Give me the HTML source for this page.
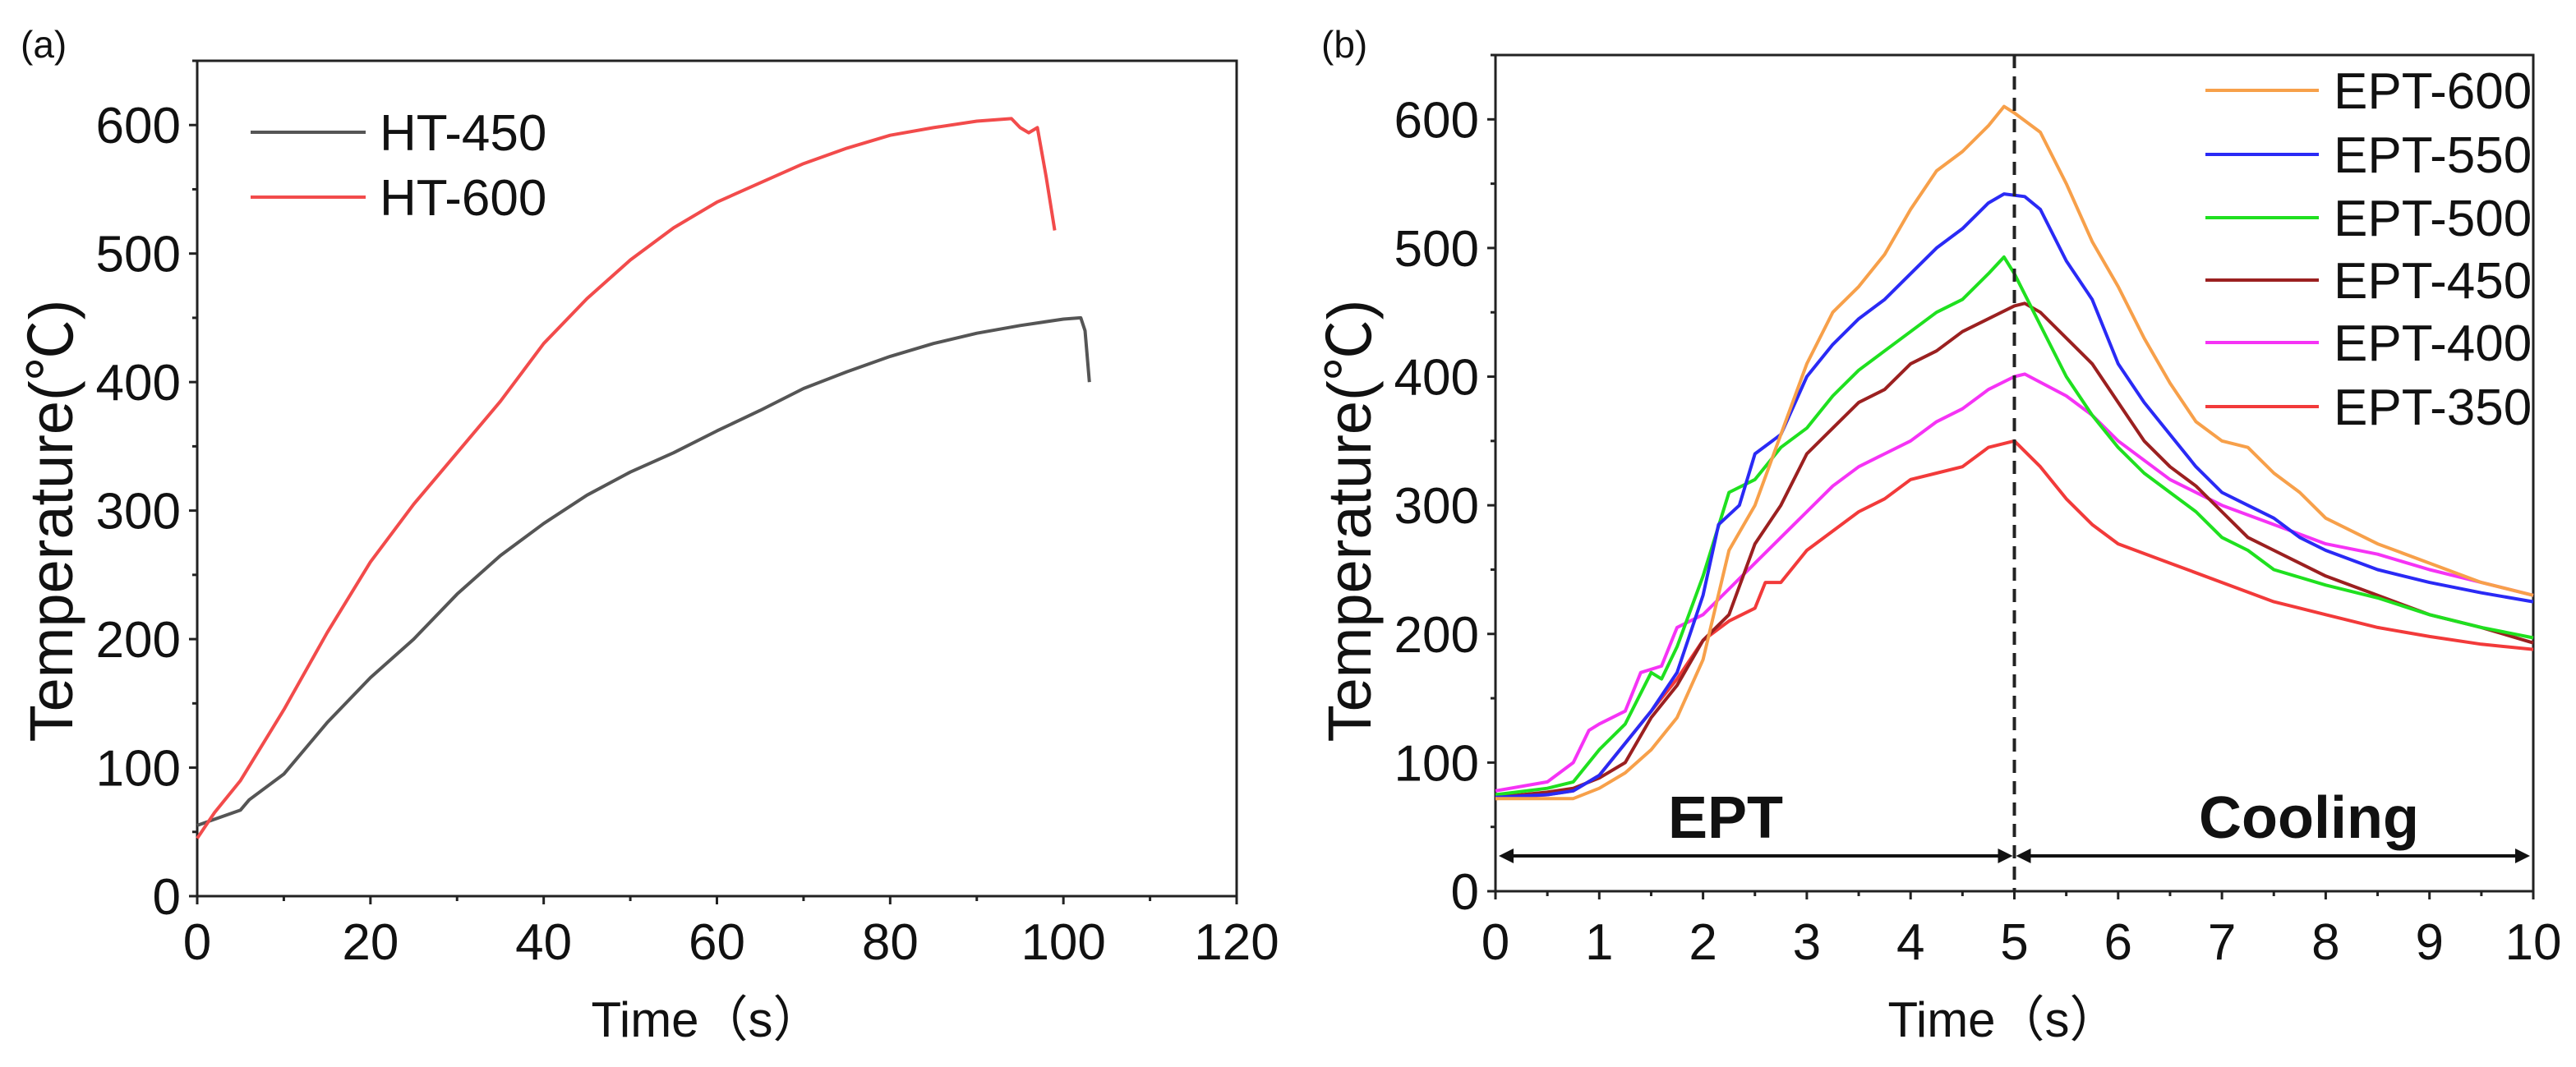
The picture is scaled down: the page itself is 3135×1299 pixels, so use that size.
<!DOCTYPE html>
<html><head><meta charset="utf-8"><style>
html,body{margin:0;padding:0;background:#fff;}
svg{display:block;font-family:"Liberation Sans","Noto Sans CJK SC",sans-serif;}
</style></head><body>
<svg id="fig" width="3135" height="1299" viewBox="0 0 3135 1299" xmlns="http://www.w3.org/2000/svg"></svg>
<script>
// ---- Panel (a) data ----
const htTime450 = [0,5,6,10,15,20,25,30,35,40,45,50,55,60,65,70,75,80,85,90,95,100,102,102.5,103];
const htTemp450 = [55,67,75,95,135,170,200,235,265,290,312,330,345,362,378,395,408,420,430,438,444,449,450,440,400];
const htTime600 = [0,2,5,10,15,20,25,30,35,40,45,50,55,60,65,70,75,80,85,90,94,95,96,97,98,99];
const htTemp600 = [45,65,90,145,205,260,305,345,385,430,465,495,520,540,555,570,582,592,598,603,605,598,594,598,560,518];
const aXTicks = [0,20,40,60,80,100,120];
const aYTicks = [0,100,200,300,400,500,600];
// ---- Panel (b) data ----
const t600=[0,0.5,0.75,1,1.25,1.5,1.75,2,2.25,2.5,2.75,3,3.25,3.5,3.75,4,4.25,4.5,4.75,4.9,5,5.25,5.5,5.75,6,6.25,6.5,6.75,7,7.25,7.5,7.75,8,8.5,9,9.5,10];
const v600=[72,72,72,80,92,110,135,180,265,300,355,410,450,470,495,530,560,575,595,610,605,590,550,505,470,430,395,365,350,345,325,310,290,270,255,240,230];
const t550=[0,0.5,0.75,1,1.25,1.5,1.75,2,2.15,2.35,2.5,2.75,3,3.25,3.5,3.75,4,4.25,4.5,4.75,4.9,5.1,5.25,5.5,5.75,6,6.25,6.5,6.75,7,7.25,7.5,7.75,8,8.5,9,9.5,10];
const v550=[73,75,78,90,115,140,170,230,285,300,340,355,400,425,445,460,480,500,515,535,542,540,530,490,460,410,380,355,330,310,300,290,275,265,250,240,232,225];
const t500=[0,0.5,0.75,1,1.25,1.5,1.6,1.75,2,2.25,2.5,2.75,3,3.25,3.5,3.75,4,4.25,4.5,4.75,4.9,5,5.25,5.5,5.75,6,6.25,6.5,6.75,7,7.25,7.5,8,8.5,9,9.5,10];
const v500=[75,80,85,110,130,170,165,190,245,310,320,345,360,385,405,420,435,450,460,480,493,480,440,400,370,345,325,310,295,275,265,250,238,228,215,205,197];
const t450=[0,0.5,0.75,1,1.25,1.5,1.75,2,2.25,2.5,2.75,3,3.25,3.5,3.75,4,4.25,4.5,4.75,5,5.1,5.25,5.5,5.75,6,6.25,6.5,6.75,7,7.25,7.5,8,8.5,9,9.5,10];
const v450=[73,77,80,88,100,135,160,195,215,270,300,340,360,380,390,410,420,435,445,455,457,450,430,410,380,350,330,315,295,275,265,245,230,215,205,193];
const t400=[0,0.5,0.75,0.9,1,1.25,1.4,1.6,1.75,2,2.25,2.5,2.75,3,3.25,3.5,3.75,4,4.25,4.5,4.75,5,5.1,5.5,5.75,6,6.5,7,7.5,8,8.5,9,9.5,10];
const v400=[78,85,100,125,130,140,170,175,205,215,235,255,275,295,315,330,340,350,365,375,390,400,402,385,370,350,320,300,285,270,262,250,240,230];
const t350=[0,0.5,0.75,1,1.25,1.5,1.75,2,2.25,2.5,2.6,2.75,3,3.25,3.5,3.75,4,4.25,4.5,4.75,5,5.25,5.5,5.75,6,6.5,7,7.5,8,8.5,9,9.5,10];
const v350=[72,75,78,90,115,140,165,195,210,220,240,240,265,280,295,305,320,325,330,345,350,330,305,285,270,255,240,225,215,205,198,192,188];
const bXTicks=[0,1,2,3,4,5,6,7,8,9,10];
const bYTicks=[0,100,200,300,400,500,600];
const bNames=["EPT-600","EPT-550","EPT-500","EPT-450","EPT-400","EPT-350"];
const bColors=["#f7a04a","#2a2af5","#1fe01f","#9b2020","#f533f5","#f23a3a"];

const NS="http://www.w3.org/2000/svg";
const svg=document.getElementById('fig');
function mk(tag,attrs,parent,name,inter){const e=document.createElementNS(NS,tag);for(const k in attrs)e.setAttribute(k,attrs[k]);


(parent||svg).appendChild(e);return e;}
function txt(s,attrs,name){const e=mk('text',attrs,svg,name,false);e.textContent=s;return e;}

function panel(cfg){
  const {x0,x1,y0,y1,xmin,xmax,ymax,xTicks,yTicks,xMinor,yMinor,id}=cfg;
  const sx=v=>x0+(v-xmin)/(xmax-xmin)*(x1-x0);
  const sy=v=>y0-(v/ymax)*(y0-y1);
  mk('rect',{x:x0,y:y1,width:x1-x0,height:y0-y1,fill:'none',stroke:'#222','stroke-width':3},svg,id+'-plot-frame',false);
  for(let v=xmin;v<=xmax+1e-9;v+=xMinor){const X=sx(v);const major=xTicks.some(t=>Math.abs(t-v)<1e-6);
    mk('line',{x1:X,x2:X,y1:y0,y2:y0+(major?10:6),stroke:'#222','stroke-width':3},svg,id+'-x-tick',false);}
  for(let v=0;v<=ymax+1e-9;v+=yMinor){const Y=sy(v);const major=yTicks.some(t=>Math.abs(t-v)<1e-6);
    mk('line',{x1:x0,x2:x0-(major?10:6),y1:Y,y2:Y,stroke:'#222','stroke-width':3},svg,id+'-y-tick',false);}
  xTicks.forEach(t=>txt(String(t),{x:sx(t),y:1168,'font-size':62,'text-anchor':'middle',fill:'#111'},id+'-x-tick-label'));
  yTicks.forEach(t=>txt(String(t),{x:x0-20,y:sy(t)+22,'font-size':62,'text-anchor':'end',fill:'#111'},id+'-y-tick-label'));
  return {sx,sy};
}
function line(ax,xs,ys,color,name,w){
  const d=xs.map((x,i)=>(i?'L':'M')+ax.sx(x).toFixed(1)+','+ax.sy(ys[i]).toFixed(1)).join('');
  mk('path',{d:d,fill:'none',stroke:color,'stroke-width':w||4,'stroke-linejoin':'round'},svg,name,false);
}
// Panel a
const A=panel({id:'a',x0:240,x1:1505,y0:1091,y1:74,xmin:0,xmax:120,ymax:650,xTicks:aXTicks,yTicks:aYTicks,xMinor:10,yMinor:50});
line(A,htTime450,htTemp450,'#555','ht-450-line');
line(A,htTime600,htTemp600,'#f24b4b','ht-600-line');
mk('line',{x1:305,x2:445,y1:161,y2:161,stroke:'#555','stroke-width':4},svg,'legend-ht-450-swatch',false);
txt('HT-450',{x:462,y:183,'font-size':62,fill:'#111'},'legend-ht-450');
mk('line',{x1:305,x2:445,y1:240,y2:240,stroke:'#f24b4b','stroke-width':4},svg,'legend-ht-600-swatch',false);
txt('HT-600',{x:462,y:262,'font-size':62,fill:'#111'},'legend-ht-600');
txt('(a)',{x:25,y:70,'font-size':46,fill:'#111'},'panel-a-label');
txt('Time（s）',{x:860,y:1262,'font-size':60,'text-anchor':'middle',fill:'#111'},'a-x-axis-title');
txt('Temperature(℃)',{x:0,y:0,'font-size':74,'text-anchor':'middle',fill:'#111',transform:'translate(88,634) rotate(-90)'},'a-y-axis-title');
// Panel b
const B=panel({id:'b',x0:1820,x1:3083,y0:1085,y1:67,xmin:0,xmax:10,ymax:650,xTicks:bXTicks,yTicks:bYTicks,xMinor:0.5,yMinor:50});
const bT=[t600,t550,t500,t450,t400,t350], bV=[v600,v550,v500,v450,v400,v350];
[5,4,3,2,1,0].forEach(i=>line(B,bT[i],bV[i],bColors[i],bNames[i].toLowerCase()+'-line'));
mk('line',{x1:B.sx(5),x2:B.sx(5),y1:67,y2:1085,stroke:'#222','stroke-width':4,'stroke-dasharray':'16,10'},svg,'phase-divider',false);
const legY=[110,188,265,341,417,495];
bNames.forEach((n,i)=>{
  mk('line',{x1:2684,x2:2822,y1:legY[i],y2:legY[i],stroke:bColors[i],'stroke-width':4},svg,'legend-'+n.toLowerCase()+'-swatch',false);
  txt(n,{x:2840,y:legY[i]+22,'font-size':62,fill:'#111'},'legend-'+n.toLowerCase());
});
// arrows
function arrow(xa,xb,y,name){
  mk('line',{x1:xa+14,x2:xb-14,y1:y,y2:y,stroke:'#111','stroke-width':4},svg,name,false);
  mk('path',{d:`M${xa},${y}l18,-9v18z M${xb},${y}l-18,-9v18z`,fill:'#111'},svg,name+'-heads',false);
}
arrow(B.sx(0)+4,B.sx(5)-2,1042,'ept-arrow');
arrow(B.sx(5)+2,B.sx(10)-4,1042,'cooling-arrow');
txt('EPT',{x:2100,y:1020,'font-size':72,'font-weight':'bold','text-anchor':'middle',fill:'#111'},'ept-label');
txt('Cooling',{x:2810,y:1020,'font-size':72,'font-weight':'bold','text-anchor':'middle',fill:'#111'},'cooling-label');
txt('(b)',{x:1608,y:70,'font-size':46,fill:'#111'},'panel-b-label');
txt('Time（s）',{x:2438,y:1262,'font-size':60,'text-anchor':'middle',fill:'#111'},'b-x-axis-title');
txt('Temperature(℃)',{x:0,y:0,'font-size':74,'text-anchor':'middle',fill:'#111',transform:'translate(1668,634) rotate(-90)'},'b-y-axis-title');
</script>
</body></html>
